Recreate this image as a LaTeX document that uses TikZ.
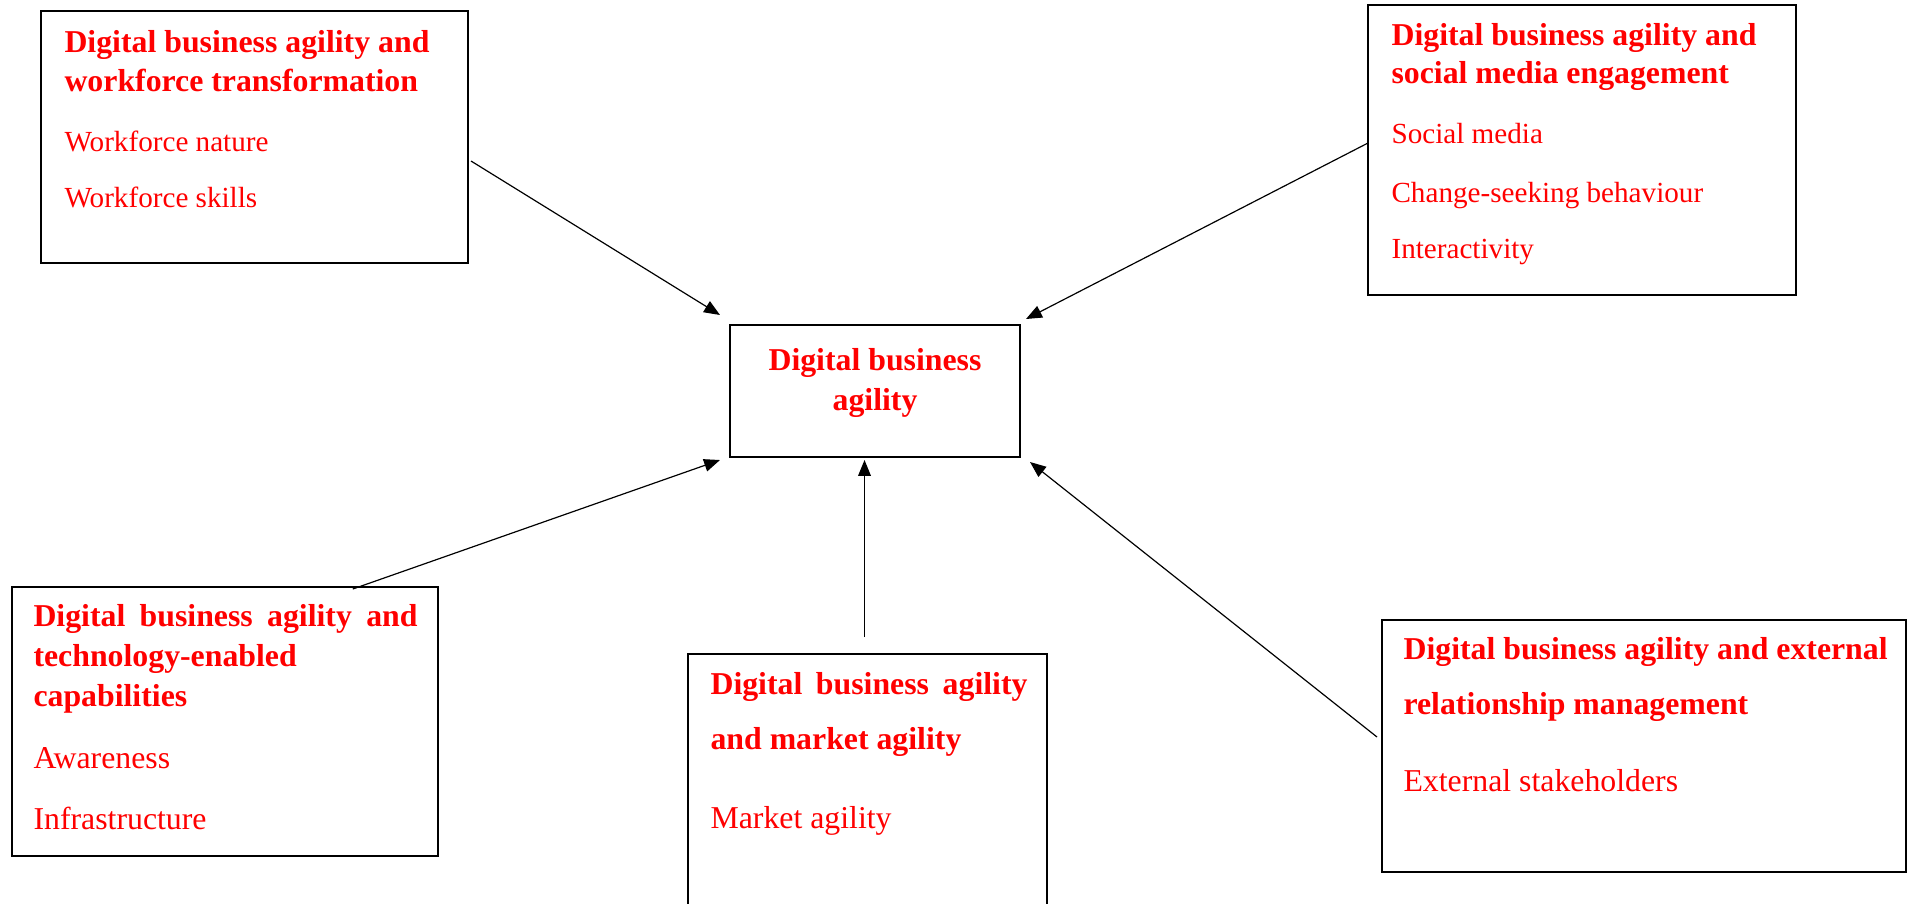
\documentclass[tikz,border=0pt]{standalone}
\usepackage{xcolor}
\usepackage{fontspec}
\setmainfont{Liberation Serif}
\usepackage{tikz}
\usetikzlibrary{positioning,calc,arrows.meta}
\newlength{\pxl}
\setlength{\pxl}{0.37736pt}
\tikzset{
  box/.style={draw=black,line width=1.1pt,anchor=north west,inner sep=0pt,outer sep=0pt},
  ttl/.style={text=red,font=\fontsize{12}{14}\selectfont\bfseries,inner sep=0pt,anchor=base west},
  itm/.style={text=red,font=\fontsize{11}{13}\selectfont,inner sep=0pt,anchor=base west},
  itmb/.style={text=red,font=\fontsize{12}{14}\selectfont,inner sep=0pt,anchor=base west},
  arr/.style={-{Triangle[length=6pt,width=4.8pt]},line width=0.45pt}
}

\begin{document}
\begin{tikzpicture}[x=\pxl,y=-\pxl]
\path[use as bounding box,clip] (0,0) rectangle (1908,903);
% boxes
\node[box,minimum width=427\pxl,minimum height=252\pxl] (wf) at (41,11) {};
\node[box,minimum width=428\pxl,minimum height=290\pxl] (sm) at (1368,5) {};
\node[box,minimum width=290\pxl,minimum height=132\pxl] (cb) at (730,325) {};
\node[box,minimum width=426\pxl,minimum height=269\pxl] (te) at (12,587) {};
\node[box,minimum width=359\pxl,minimum height=290\pxl] (mk) at (688,654) {};
\node[box,minimum width=524\pxl,minimum height=252\pxl] (er) at (1382,620) {};
% workforce
\node[ttl] (wfA) at (64,52) {Digital business agility and};
\node[ttl] (wfB) at (64,91) {workforce transformation};
\node[itm] (wfC) at (64,151) {Workforce nature};
\node[itm] (wfD) at (64,207) {Workforce skills};
% social media
\node[ttl] (smA) at (1391,45) {Digital business agility and};
\node[ttl] (smB) at (1391,83) {social media engagement};
\node[itm] (smC) at (1391,143) {Social media};
\node[itm] (smD) at (1391,202) {Change-seeking behaviour};
\node[itm] (smE) at (1391,258) {Interactivity};
% centre
\node[ttl,anchor=base] (cbA) at (875,370) {Digital business};
\node[ttl,anchor=base] (cbB) at (875,410) {agility};
% technology
\node[ttl] (teA) at (33,626) {\makebox[384\pxl][s]{Digital business agility and}};
\node[ttl] (teB) at (33,666) {technology-enabled};
\node[ttl] (teC) at (33,706) {capabilities};
\node[itmb] (teD) at (33,768) {Awareness};
\node[itmb] (teE) at (33,829) {Infrastructure};
% market
\node[ttl] (mkA) at (710,694) {\makebox[317\pxl][s]{Digital business agility}};
\node[ttl] (mkB) at (710,749) {and market agility};
\node[itmb] (mkC) at (710,828) {Market agility};
% external
\node[ttl] (erA) at (1403,659) {Digital business agility and external};
\node[ttl] (erB) at (1403,714) {relationship management};
\node[itmb] (erC) at (1403,791) {External stakeholders};
% arrows
\coordinate (mkin) at ($(cb.south)+(-10.5,3)$);
\draw[arr] ($(wf.east)+(3,24)$) -- ($(cb.north west)+(-10,-10)$);
\draw[arr] ($(sm.west)+(0,-7)$) -- ($(cb.north east)+(6,-6)$);
\draw[arr] ($(te.north west)!0.8!(te.north east)+(0,2)$) -- ($(cb.south west)+(-10,3)$);
\draw[arr] ($(mkin |- mk.north)+(0,-17)$) -- (mkin);
\draw[arr] ($(er.west)+(-5,-9)$) -- ($(cb.south east)+(10,5)$);
\end{tikzpicture}
\end{document}
